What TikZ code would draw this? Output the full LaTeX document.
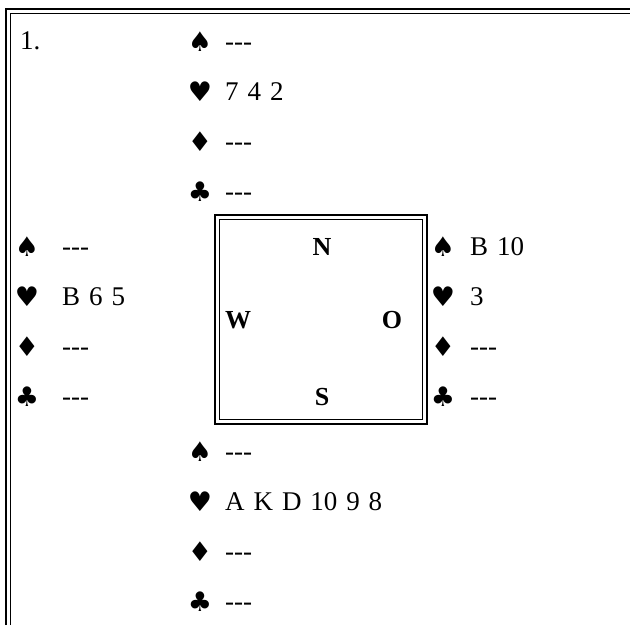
\documentclass[tikz,border=0pt]{standalone}
\usepackage{fontspec}
\setmainfont{Liberation Serif}
\newfontfamily\suitfont{DejaVu Sans}
\newcommand\nocards{-{}-{}-}
\newcommand\cardtextfont{\fontsize{27}{30}\selectfont\spaceskip 0.33em\relax}
\tikzset{
  txt/.style={anchor=base west, inner sep=0pt, font=\cardtextfont},
  suit/.style={anchor=base, inner sep=0pt, font=\suitfont\fontsize{27}{30}\selectfont},
  dir/.style={anchor=base, inner sep=0pt, font=\bfseries\fontsize{26}{30}\selectfont},
  frameline/.style={line width=1.4pt},
}
\begin{document}
\begin{tikzpicture}[x=1pt,y=-1pt]
\useasboundingbox (0,0) rectangle (630,625);
% outer frame (open at right and bottom)
\draw[frameline] (6,625) -- (6,9) -- (630,9);
\draw[frameline] (10.5,625) -- (10.5,13.5) -- (630,13.5);
% table box
\draw[frameline] (215,215) rectangle (427,424);
\draw[frameline] (219.5,219.5) rectangle (422.5,419.5);
\node[txt] (num) at (20,49) {1.};
% North
\node[suit] (ns) at (200,51) {♠};  \node[txt] (nst) at (225,50) {\nocards};
\node[suit] (nh) at (200,101) {♥}; \node[txt] (nht) at (225,100) {7 4 2};
\node[suit] (nd) at (200,151) {♦}; \node[txt] (ndt) at (225,150) {\nocards};
\node[suit] (nc) at (200,201) {♣}; \node[txt] (nct) at (225,200) {\nocards};
% West
\node[suit] (ws) at (27,256) {♠};  \node[txt] (wst) at (62,255) {\nocards};
\node[suit] (wh) at (27,306) {♥}; \node[txt] (wht) at (62,305) {B 6 5};
\node[suit] (wd) at (27,356) {♦}; \node[txt] (wdt) at (62,355) {\nocards};
\node[suit] (wc) at (27,406) {♣}; \node[txt] (wct) at (62,405) {\nocards};
% East
\node[suit] (es) at (443,256) {♠};  \node[txt] (est) at (470,255) {B 10};
\node[suit] (eh) at (443,306) {♥}; \node[txt] (eht) at (470,305) {3};
\node[suit] (ed) at (443,356) {♦}; \node[txt] (edt) at (470,355) {\nocards};
\node[suit] (ec) at (443,406) {♣}; \node[txt] (ect) at (470,405) {\nocards};
% South
\node[suit] (ss) at (200,461) {♠};  \node[txt] (sst) at (225,460) {\nocards};
\node[suit] (sh) at (200,511) {♥}; \node[txt] (sht) at (225,510) {A K D 10 9 8};
\node[suit] (sd) at (200,561) {♦}; \node[txt] (sdt) at (225,560) {\nocards};
\node[suit] (sc) at (200,611) {♣}; \node[txt] (sct) at (225,610) {\nocards};
% compass
\node[dir] (dN) at (322,255) {N};
\node[dir] (dW) at (238,328) {W};
\node[dir] (dO) at (392,328) {O};
\node[dir] (dS) at (322,405) {S};
\end{tikzpicture}
\end{document}
